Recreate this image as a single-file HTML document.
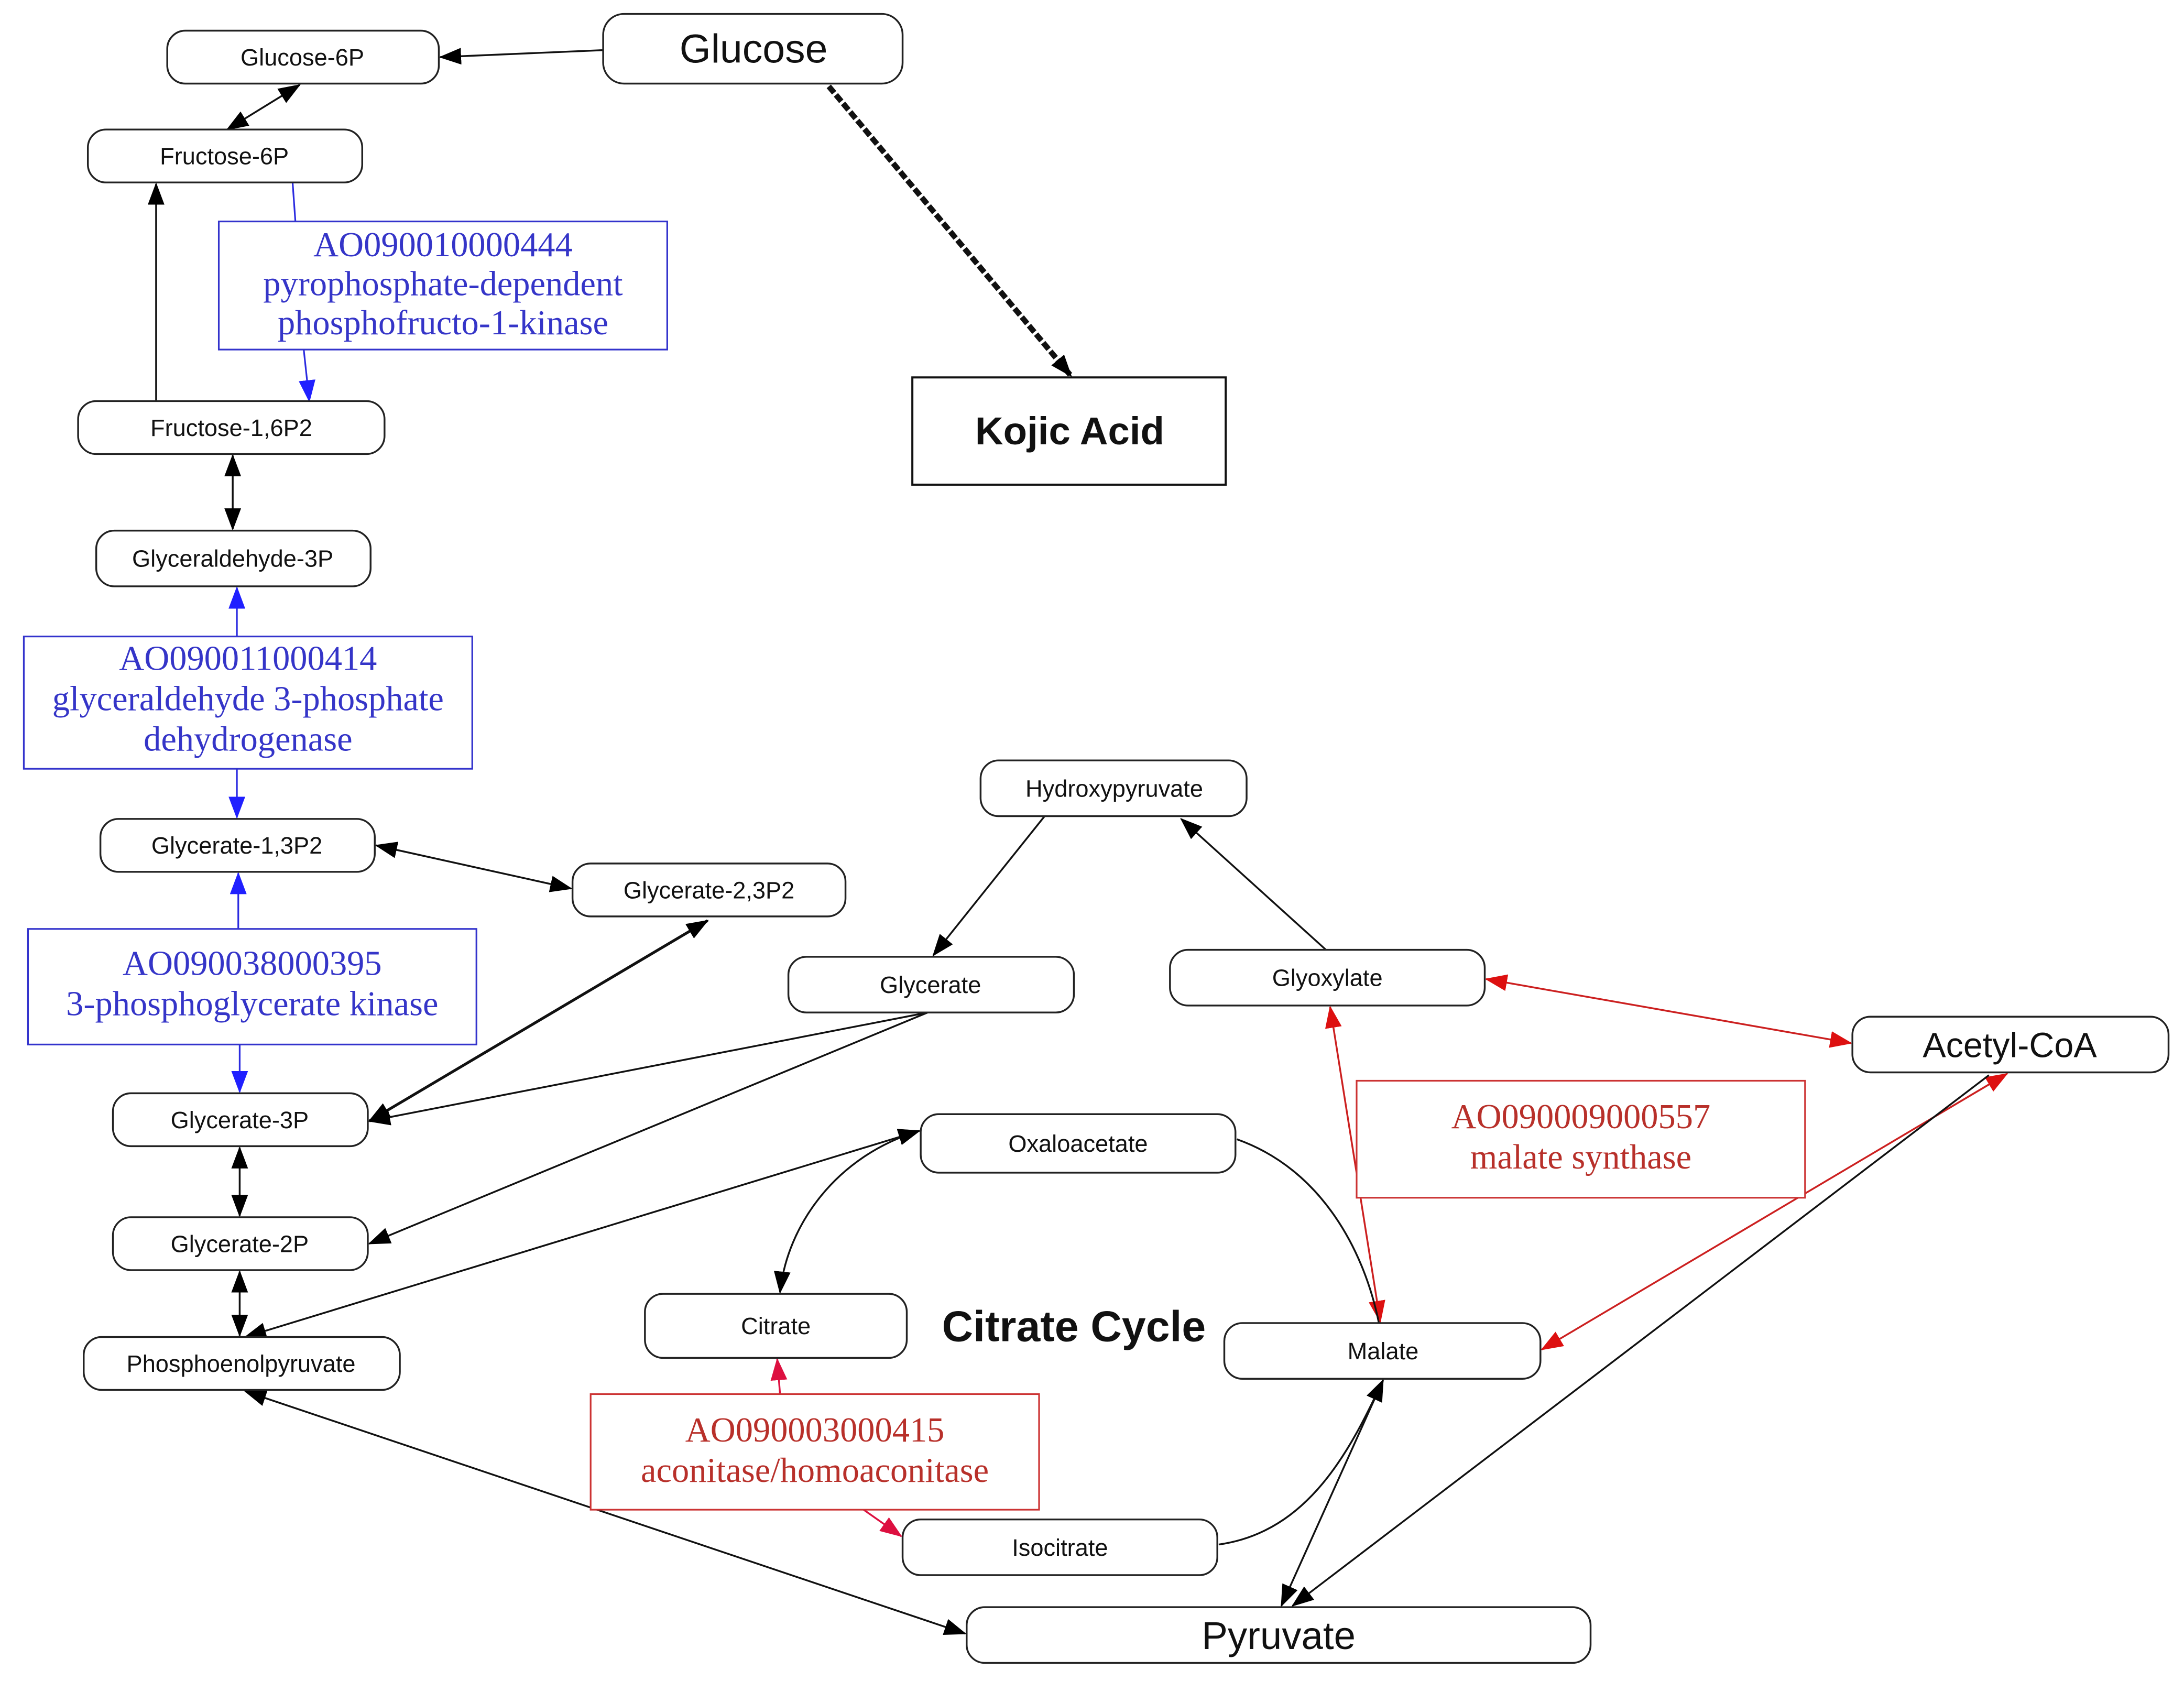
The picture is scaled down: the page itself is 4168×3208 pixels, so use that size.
<!DOCTYPE html>
<html><head><meta charset="utf-8"><style>
html,body{margin:0;padding:0;background:#fff;}
svg{display:block;}
.n{fill:#fff;stroke:#222;stroke-width:1.3;}
.t{font-family:"Liberation Sans",Arial,sans-serif;fill:#111;text-anchor:middle;}
.e{font-family:"Liberation Serif","Times New Roman",serif;text-anchor:middle;font-size:25px;}
.bl{fill:#3535c8;} .rd{fill:#b8302a;}
.k{stroke:#111;stroke-width:1.3;fill:none;}
.b{stroke:#2a2ae0;stroke-width:1.2;fill:none;}
.r{stroke:#cc2020;stroke-width:1.3;fill:none;}
</style></head><body>
<svg width="4168" height="3208" viewBox="0 0 1568 1207" xmlns="http://www.w3.org/2000/svg">
<defs>
<marker id="ak" markerUnits="userSpaceOnUse" markerWidth="16" markerHeight="12" refX="15" refY="6" orient="auto-start-reverse"><path d="M0,0 L16,6 L0,12 z" fill="#000"/></marker>
<marker id="ab" markerUnits="userSpaceOnUse" markerWidth="16" markerHeight="12" refX="15" refY="6" orient="auto-start-reverse"><path d="M0,0 L16,6 L0,12 z" fill="#2020ff"/></marker>
<marker id="ar" markerUnits="userSpaceOnUse" markerWidth="16" markerHeight="12" refX="15" refY="6" orient="auto-start-reverse"><path d="M0,0 L16,6 L0,12 z" fill="#dd1010"/></marker>
<marker id="ac" markerUnits="userSpaceOnUse" markerWidth="16" markerHeight="12" refX="15" refY="6" orient="auto-start-reverse"><path d="M0,0 L16,6 L0,12 z" fill="#dd1040"/></marker>
</defs>

<line class="k" x1="433" y1="36" x2="316" y2="41" marker-end="url(#ak)"/>
<line x1="595" y1="62" x2="769" y2="270" stroke="#111" stroke-width="4" stroke-dasharray="6,2" marker-end="url(#ak)"/>
<line class="k" x1="163" y1="93" x2="215" y2="61" marker-start="url(#ak)" marker-end="url(#ak)"/>
<line class="b" x1="210" y1="131" x2="212" y2="159"/>
<line class="b" x1="218" y1="251" x2="222" y2="288" marker-end="url(#ab)"/>
<line class="k" x1="112" y1="288" x2="112" y2="132" marker-end="url(#ak)"/>
<line class="k" x1="167" y1="327" x2="167" y2="380" marker-start="url(#ak)" marker-end="url(#ak)"/>
<line class="b" x1="170" y1="457" x2="170" y2="422" marker-end="url(#ab)"/>
<line class="b" x1="170" y1="552" x2="170" y2="587" marker-end="url(#ab)"/>
<line class="b" x1="171" y1="667" x2="171" y2="627" marker-end="url(#ab)"/>
<line class="b" x1="172" y1="750" x2="172" y2="784" marker-end="url(#ab)"/>
<line class="k" x1="270" y1="607" x2="410" y2="638" marker-start="url(#ak)" marker-end="url(#ak)"/>
<line class="k" style="stroke-width:2" x1="508" y1="661" x2="265" y2="805" marker-start="url(#ak)" marker-end="url(#ak)"/>
<line class="k" x1="666" y1="727" x2="265" y2="805" marker-end="url(#ak)"/>
<line class="k" x1="666" y1="727" x2="265" y2="893" marker-end="url(#ak)"/>
<line class="k" x1="172" y1="824" x2="172" y2="873" marker-start="url(#ak)" marker-end="url(#ak)"/>
<line class="k" x1="172" y1="913" x2="172" y2="959" marker-start="url(#ak)" marker-end="url(#ak)"/>
<line class="k" x1="660" y1="812" x2="176" y2="960" marker-start="url(#ak)" marker-end="url(#ak)"/>
<line class="k" x1="176" y1="999" x2="693" y2="1173" marker-start="url(#ak)" marker-end="url(#ak)"/>
<line class="k" x1="750" y1="586" x2="670" y2="686" marker-end="url(#ak)"/>
<line class="k" x1="952" y1="682" x2="848" y2="588" marker-end="url(#ak)"/>
<line class="r" x1="1067" y1="703" x2="1329" y2="749" marker-start="url(#ar)" marker-end="url(#ar)"/>
<line class="r" x1="955" y1="723" x2="991" y2="949" marker-start="url(#ar)" marker-end="url(#ar)"/>
<line class="r" x1="1441" y1="771" x2="1107" y2="969" marker-start="url(#ar)" marker-end="url(#ar)"/>
<line class="k" x1="1428" y1="772" x2="928" y2="1153" marker-end="url(#ak)"/>
<line class="k" x1="993" y1="991" x2="920" y2="1153" marker-start="url(#ak)" marker-end="url(#ak)"/>
<path class="k" d="M888,818 C950,840 980,900 990,950"/>
<path class="k" d="M660,812 C600,830 565,880 560,928" marker-start="url(#ak)" marker-end="url(#ak)"/>
<line class="r" style="stroke:#dd1040" x1="560" y1="1001" x2="558" y2="976" marker-end="url(#ac)"/>
<line class="r" style="stroke:#dd1040" x1="620" y1="1084" x2="647" y2="1103" marker-end="url(#ac)"/>
<path class="k" d="M875,1109 C940,1100 970,1040 993,991" marker-end="url(#ak)"/>

<rect class="n" x="120" y="22" width="195" height="38" rx="13"/><text class="t" x="217" y="47" font-size="17">Glucose-6P</text>
<rect class="n" x="433" y="10" width="215" height="50" rx="15"/><text class="t" x="541" y="45" font-size="29">Glucose</text>
<rect class="n" x="63" y="93" width="197" height="38" rx="13"/><text class="t" x="161" y="118" font-size="17">Fructose-6P</text>
<rect class="n" x="56" y="288" width="220" height="38" rx="13"/><text class="t" x="166" y="313" font-size="17">Fructose-1,6P2</text>
<rect class="n" x="69" y="381" width="197" height="40" rx="13"/><text class="t" x="167" y="407" font-size="17">Glyceraldehyde-3P</text>
<rect class="n" x="72" y="588" width="197" height="38" rx="13"/><text class="t" x="170" y="613" font-size="17">Glycerate-1,3P2</text>
<rect class="n" x="411" y="620" width="196" height="38" rx="13"/><text class="t" x="509" y="645" font-size="17">Glycerate-2,3P2</text>
<rect class="n" x="81" y="785" width="183" height="38" rx="13"/><text class="t" x="172" y="810" font-size="17">Glycerate-3P</text>
<rect class="n" x="81" y="874" width="183" height="38" rx="13"/><text class="t" x="172" y="899" font-size="17">Glycerate-2P</text>
<rect class="n" x="60" y="960" width="227" height="38" rx="13"/><text class="t" x="173" y="985" font-size="17">Phosphoenolpyruvate</text>
<rect class="n" x="704" y="546" width="191" height="40" rx="13"/><text class="t" x="800" y="572" font-size="17">Hydroxypyruvate</text>
<rect class="n" x="566" y="687" width="205" height="40" rx="13"/><text class="t" x="668" y="713" font-size="17">Glycerate</text>
<rect class="n" x="840" y="682" width="226" height="40" rx="13"/><text class="t" x="953" y="708" font-size="17">Glyoxylate</text>
<rect class="n" x="1330" y="730" width="227" height="40" rx="13"/><text class="t" x="1443" y="759" font-size="25">Acetyl-CoA</text>
<rect class="n" x="661" y="800" width="226" height="42" rx="13"/><text class="t" x="774" y="827" font-size="17">Oxaloacetate</text>
<rect class="n" x="463" y="929" width="188" height="46" rx="13"/><text class="t" x="557" y="958" font-size="17">Citrate</text>
<rect class="n" x="879" y="950" width="227" height="40" rx="13"/><text class="t" x="993" y="976" font-size="17">Malate</text>
<rect class="n" x="648" y="1091" width="226" height="40" rx="13"/><text class="t" x="761" y="1117" font-size="17">Isocitrate</text>
<rect class="n" x="694" y="1154" width="448" height="40" rx="13"/><text class="t" x="918" y="1184" font-size="28">Pyruvate</text>
<rect x="655" y="271" width="225" height="77" fill="#fff" stroke="#111" stroke-width="1.5"/><text class="t" x="768" y="319" font-size="28" font-weight="bold">Kojic Acid</text>
<text class="t" x="771" y="963" font-size="31" font-weight="bold">Citrate Cycle</text>

<rect x="157" y="159" width="322" height="92" fill="#fff" stroke="#3333cc" stroke-width="1.2"/>
<text class="e bl" x="318" y="184">AO090010000444</text>
<text class="e bl" x="318" y="212">pyrophosphate-dependent</text>
<text class="e bl" x="318" y="240">phosphofructo-1-kinase</text>
<rect x="17" y="457" width="322" height="95" fill="#fff" stroke="#3333cc" stroke-width="1.2"/>
<text class="e bl" x="178" y="481">AO090011000414</text>
<text class="e bl" x="178" y="510">glyceraldehyde 3-phosphate</text>
<text class="e bl" x="178" y="539">dehydrogenase</text>
<rect x="20" y="667" width="322" height="83" fill="#fff" stroke="#3333cc" stroke-width="1.2"/>
<text class="e bl" x="181" y="700">AO090038000395</text>
<text class="e bl" x="181" y="729">3-phosphoglycerate kinase</text>
<rect x="974" y="776" width="322" height="84" fill="#fff" stroke="#cc3333" stroke-width="1.2"/>
<text class="e rd" x="1135" y="810">AO090009000557</text>
<text class="e rd" x="1135" y="839">malate synthase</text>
<rect x="424" y="1001" width="322" height="83" fill="#fff" stroke="#cc3333" stroke-width="1.2"/>
<text class="e rd" x="585" y="1035">AO090003000415</text>
<text class="e rd" x="585" y="1064">aconitase/homoaconitase</text>
</svg>
</body></html>
